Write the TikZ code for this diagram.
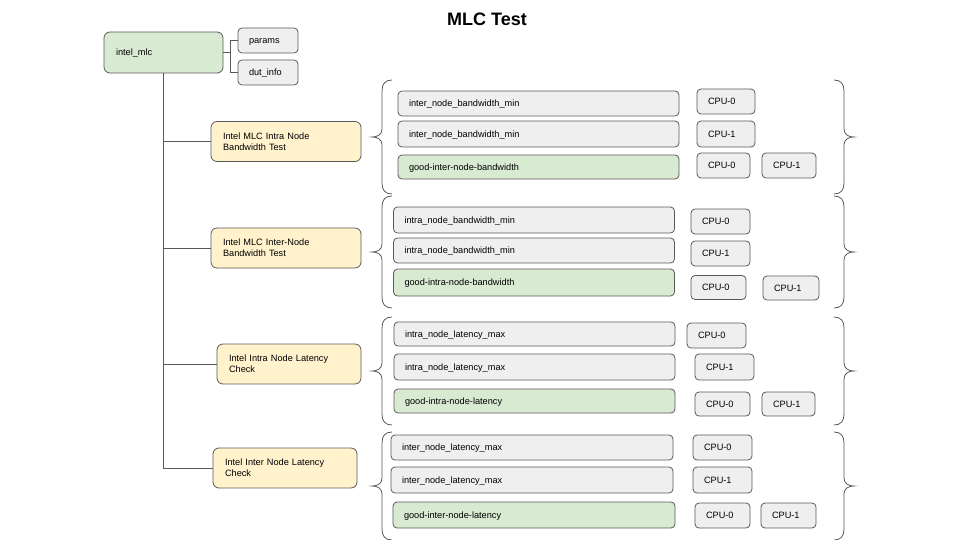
\documentclass[tikz,border=0pt]{standalone}
\usepackage{fontspec}
\setmainfont{Liberation Sans}
\definecolor{edgegrey}{HTML}{595959}
\definecolor{cellgrey}{HTML}{EFEFEF}
\definecolor{cellgreen}{HTML}{D9EAD3}
\definecolor{cellyellow}{HTML}{FFF2CC}
\newcommand{\boxfont}{\fontsize{9.2}{11}\selectfont}
% curly brackets round each group of rows: #1 top, #2 half height
\newcommand{\leftcurl}[2]{%
  \draw[curl] (392,#1) .. controls +(-7,0) and +(0,-7) .. ++(-10,11) -- ++(0,#2-19)
    .. controls +(0,6) and +(5,0) .. ++(-10,8) .. controls +(5,0) and +(0,-6) .. ++(10,8)
    -- ++(0,#2-19) .. controls +(0,7) and +(-7,0) .. ++(10,11);}
\newcommand{\rightcurl}[2]{%
  \draw[curl] (834,#1) .. controls +(7,0) and +(0,-7) .. ++(10,11) -- ++(0,#2-19)
    .. controls +(0,6) and +(-5,0) .. ++(10,8) .. controls +(-5,0) and +(0,-6) .. ++(-10,8)
    -- ++(0,#2-19) .. controls +(0,7) and +(7,0) .. ++(-10,11);}

\begin{document}
\begin{tikzpicture}[x=1pt,y=-1pt,
    cell/.style={draw=edgegrey,line width=0.8pt,rounded corners=4pt,inner ysep=0pt,
      align=left,font=\boxfont,text=black},
    oneline/.style={text height=6.8pt,text depth=0.4pt},
    root/.style={cell,oneline,fill=cellgreen,rounded corners=6pt,text width=95pt,inner xsep=12pt,minimum height=41pt},
    info/.style={cell,oneline,fill=cellgrey,text width=38pt,inner xsep=11pt,minimum height=25pt},
    test/.style={cell,fill=cellyellow,rounded corners=6pt,text width=126pt,inner xsep=12pt,minimum height=40pt},
    metric/.style={cell,oneline,fill=cellgrey,text width=259pt,inner xsep=11pt,minimum height=25pt},
    good/.style={metric,fill=cellgreen},
    cpu/.style={cell,oneline,fill=cellgrey,text width=36pt,inner xsep=11pt,minimum height=25pt},
    link/.style={draw=edgegrey,line width=0.8pt},
    curl/.style={draw=edgegrey,line width=0.8pt}]
  \useasboundingbox (0,0) rectangle (960,540);

  \node[font=\fontsize{18}{20}\selectfont\bfseries] (title) at (487,19) {MLC Test};

  \node[root] (mlc) at (163.5,52.5) {intel\_mlc};
  \node[info] (params) at (268,40.5) {params};
  \node[info] (dut) at (268,72.5) {dut\_info};

  \node[test] (intra) at (286,141.5) {Intel MLC Intra Node\\Bandwidth Test};
  \node[test] (inter) at (286,248) {Intel MLC Inter-Node\\Bandwidth Test};
  \node[test,text width=120pt] (intralat) at (289,364) {Intel Intra Node Latency\\Check};
  \node[test,text width=120pt] (interlat) at (285,468) {Intel Inter Node Latency\\Check};

  \draw[link] (mlc.east) -- ++(7,0) |- (params.west);
  \draw[link] (mlc.east) -- ++(7,0) |- (dut.west);
  \draw[link] (mlc.south) |- (intra.west);
  \draw[link] (mlc.south) |- (inter.west);
  \draw[link] (mlc.south) |- (intralat.west);
  \draw[link] (mlc.south) |- (interlat.west);

  % intra node bandwidth
  \node[metric] (bwa1) at (538.5,103.5) {inter\_node\_bandwidth\_min};
  \node[metric,minimum height=26pt] (bwa2) at (538.5,134) {inter\_node\_bandwidth\_min};
  \node[good,minimum height=24pt] (bwa3) at (538.5,167) {good-inter-node-bandwidth};
  \node[cpu] (bwa1c0) at (726,101.5) {CPU-0};
  \node[cpu,minimum height=26pt] (bwa2c1) at (726,134) {CPU-1};
  \node[cpu,text width=31pt] (bwa3c0) at (723.5,165.5) {CPU-0};
  \node[cpu,text width=32pt] (bwa3c1) at (789,165.5) {CPU-1};
  \leftcurl{80}{57}
  \rightcurl{80}{57}

  % inter node bandwidth
  \node[metric,minimum height=26pt] (bwe1) at (534,220) {intra\_node\_bandwidth\_min};
  \node[metric] (bwe2) at (534,250.5) {intra\_node\_bandwidth\_min};
  \node[good,minimum height=27pt] (bwe3) at (534,282.5) {good-intra-node-bandwidth};
  \node[cpu,text width=37pt] (bwe1c0) at (720.5,221.5) {CPU-0};
  \node[cpu,text width=37pt] (bwe2c1) at (720.5,253.5) {CPU-1};
  \node[cpu,text width=33pt,minimum height=24pt] (bwe3c0) at (718.5,287.5) {CPU-0};
  \node[cpu,text width=34pt,minimum height=24pt] (bwe3c1) at (791,288) {CPU-1};
  \leftcurl{196}{56}
  \rightcurl{196}{56}

  % intra node latency
  \node[metric,minimum height=24pt] (lta1) at (534.5,334) {intra\_node\_latency\_max};
  \node[metric,minimum height=26pt] (lta2) at (534.5,367) {intra\_node\_latency\_max};
  \node[good,minimum height=24pt] (lta3) at (534.5,401) {good-intra-node-latency};
  \node[cpu,text width=37pt] (lta1c0) at (716.5,335.5) {CPU-0};
  \node[cpu,text width=37pt,minimum height=26pt] (lta2c1) at (724.5,367) {CPU-1};
  \node[cpu,text width=33pt,minimum height=24pt] (lta3c0) at (722.5,404) {CPU-0};
  \node[cpu,text width=31pt,minimum height=24pt] (lta3c1) at (788.5,404) {CPU-1};
  \leftcurl{317}{54}
  \rightcurl{317}{54}

  % inter node latency
  \node[metric,text width=260pt] (lte1) at (532,447.5) {inter\_node\_latency\_max};
  \node[metric,text width=260pt,minimum height=26pt] (lte2) at (532,480) {inter\_node\_latency\_max};
  \node[good,text width=260pt,minimum height=26pt] (lte3) at (534,515) {good-inter-node-latency};
  \node[cpu,text width=37pt] (lte1c0) at (722.5,447.5) {CPU-0};
  \node[cpu,text width=37pt,minimum height=26pt] (lte2c1) at (722.5,480) {CPU-1};
  \node[cpu,text width=33pt] (lte3c0) at (722.5,515.5) {CPU-0};
  \node[cpu,text width=33pt] (lte3c1) at (788.5,515.5) {CPU-1};
  \leftcurl{432}{54}
  \rightcurl{432}{54}
\end{tikzpicture}
\end{document}
